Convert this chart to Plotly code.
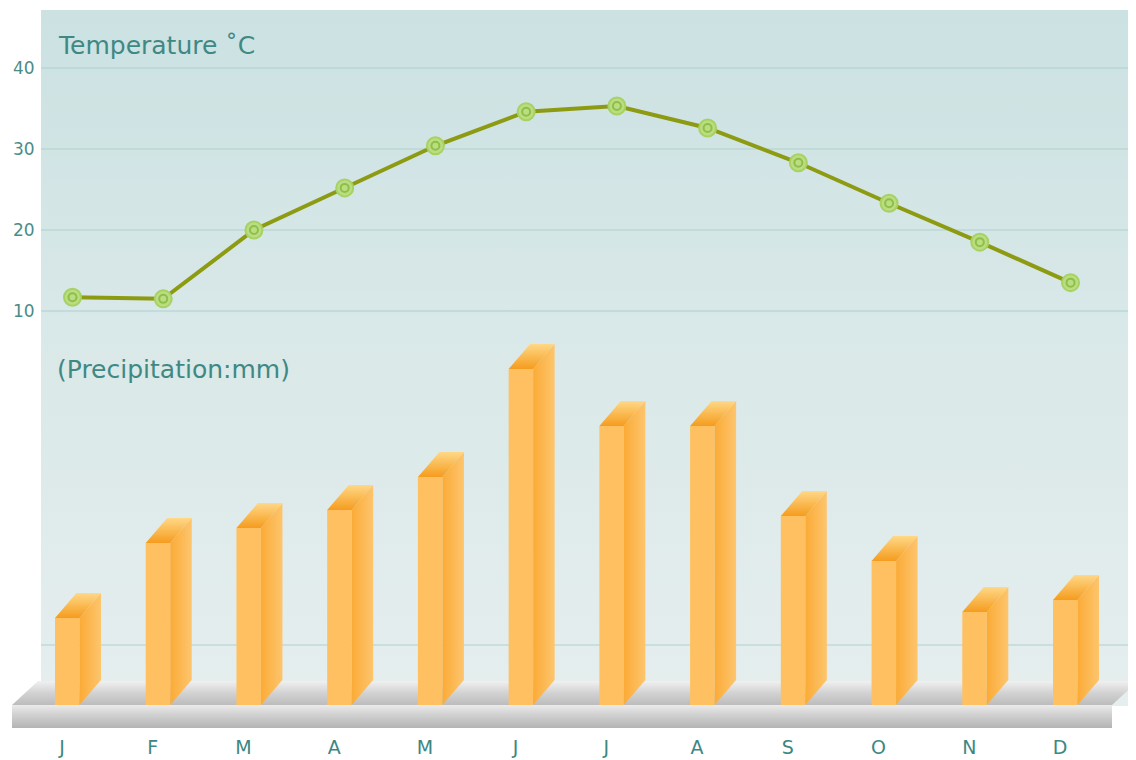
import plotly.graph_objects as go

# ---------------- data ----------------
months = ["J", "F", "M", "A", "M", "J", "J", "A", "S", "O", "N", "D"]
temperature = [11.7, 11.5, 20.0, 25.2, 30.4, 34.6, 35.3, 32.6, 28.3, 23.3, 18.5, 13.5]
precipitation = [29, 54, 59, 65, 76, 112, 93, 93, 63, 48, 31, 35]
temp_ticks = [10, 20, 30, 40]
precip_grid = [20]

# ---------------- geometry (page-pixel layout helpers) ----------------
OFF = 8                                # page body margin in the browser
W, H = 1136 - OFF, 760 - OFF
PLOT_L, PLOT_R, PLOT_T, PLOT_B = 10, 1136, 10, 730   # plot area in page pixels
ML, MR, MT, MB = PLOT_L - OFF, 1136 - PLOT_R, PLOT_T - OFF, 760 - PLOT_B

X0_PX, XSTEP_PX = 62.0, 90.73        # page pixel of first month, pixels per month


def x_of(px):
    return (px - X0_PX) / XSTEP_PX


def t_of(py):                          # temperature axis: 10 deg at 311px, 8.1 px/deg
    return 10 + (311 - py) / 8.1


def p_of(py):                          # precipitation axis: 0 at 705px, 3 px/mm
    return (705 - py) / 3.0


def paper_x(px):
    return (px - PLOT_L) / (PLOT_R - PLOT_L)


def paper_y(py):
    return 1 - (py - PLOT_T) / (PLOT_B - PLOT_T)


x_range = [x_of(PLOT_L), x_of(PLOT_R)]
t_range = [t_of(PLOT_B), t_of(PLOT_T)]
p_range = [p_of(PLOT_B), p_of(PLOT_T)]

BAR_OFFSET = x_of(55) - x_of(X0_PX)
BAR_WIDTH = 24.5 / XSTEP_PX
DEPTH_X = 21.5 / XSTEP_PX
DEPTH_Y = 25 / 3.0
LINE_SHIFT = 10.5 / XSTEP_PX

FONT = "DejaVu Sans"
TEAL = "#3f8884"
GRID = "#add0ce"

fig = go.Figure()

# background panel with vertical gradient (base axis y)
px_l, px_r = x_of(41), x_of(PLOT_R)
fig.add_trace(go.Scatter(
    x=[px_l, px_r, px_r, px_l, px_l],
    y=[t_of(706), t_of(706), t_of(PLOT_T), t_of(PLOT_T), t_of(706)],
    mode="lines", line=dict(width=0), fill="toself",
    fillgradient=dict(type="vertical",
                      colorscale=[[0, "#e6eeee"], [0.55, "#d9e8e8"], [1, "#cbe1e2"]]),
    hoverinfo="skip", xaxis="x", yaxis="y"))

# temperature gridlines
for tv in temp_ticks:
    fig.add_trace(go.Scatter(x=[px_l, px_r], y=[tv, tv], mode="lines",
                             line=dict(color=GRID, width=1),
                             hoverinfo="skip", xaxis="x", yaxis="y"))

# temperature line
fig.add_trace(go.Scatter(
    x=[i + LINE_SHIFT for i in range(len(months))], y=temperature,
    mode="lines+markers",
    line=dict(color="#8d9b12", width=4),
    marker=dict(size=17, color="#bcdc80", line=dict(color="#a6d263", width=2)),
    hoverinfo="skip", xaxis="x", yaxis="y"))
fig.add_trace(go.Scatter(
    x=[i + LINE_SHIFT for i in range(len(months))], y=temperature,
    mode="markers",
    marker=dict(size=8, symbol="circle-open", color="#8cc04a", line=dict(width=2)),
    hoverinfo="skip", xaxis="x", yaxis="y"))

# precipitation gridline (decor axis y2)
for pv in precip_grid:
    fig.add_trace(go.Scatter(x=[px_l, px_r], y=[pv, pv], mode="lines",
                             line=dict(color=GRID, width=1),
                             hoverinfo="skip", xaxis="x", yaxis="y2"))

# floor: top face and front face
fx0, fx1 = x_of(12), x_of(1112)
fb0, fb1 = x_of(38), x_of(1138)
fig.add_trace(go.Scatter(
    x=[fx0, fx1, fb1, fb0, fx0],
    y=[p_of(705), p_of(705), p_of(681), p_of(681), p_of(705)],
    mode="lines", line=dict(width=0), fill="toself",
    fillgradient=dict(type="vertical",
                      colorscale=[[0, "#bcbcbc"], [0.5, "#d2d2d2"], [1, "#f0f0f0"]]),
    hoverinfo="skip", xaxis="x", yaxis="y2"))
fig.add_trace(go.Scatter(
    x=[fx0, fx1, fx1, fx0, fx0],
    y=[p_of(728), p_of(728), p_of(705), p_of(705), p_of(728)],
    mode="lines", line=dict(width=0), fill="toself",
    fillgradient=dict(type="vertical",
                      colorscale=[[0, "#b4b4b4"], [0.6, "#d2d2d2"], [1, "#ebebeb"]]),
    hoverinfo="skip", xaxis="x", yaxis="y2"))

# precipitation bars (front faces)
fig.add_trace(go.Bar(
    x=list(range(len(months))), y=precipitation,
    width=BAR_WIDTH, offset=BAR_OFFSET,
    marker=dict(color="#fec060", line=dict(width=0)),
    hoverinfo="skip", xaxis="x", yaxis="y3"))

# side and top faces of bars
for i, v in enumerate(precipitation):
    xl = i + BAR_OFFSET
    xr = xl + BAR_WIDTH
    fig.add_trace(go.Scatter(
        x=[xr, xr + DEPTH_X, xr + DEPTH_X, xr, xr],
        y=[0, DEPTH_Y, v + DEPTH_Y, v, 0],
        mode="lines", line=dict(width=0), fill="toself",
        fillgradient=dict(type="horizontal",
                          colorscale=[[0, "#fbab36"], [1, "#fdc56e"]]),
        hoverinfo="skip", xaxis="x", yaxis="y3"))
    fig.add_trace(go.Scatter(
        x=[xl, xr, xr + DEPTH_X, xl + DEPTH_X, xl],
        y=[v, v, v + DEPTH_Y, v + DEPTH_Y, v],
        mode="lines", line=dict(width=0), fill="toself",
        fillgradient=dict(type="vertical",
                          colorscale=[[0, "#f59c1e"], [1, "#ffd887"]]),
        hoverinfo="skip", xaxis="x", yaxis="y3"))

fig.add_annotation(text="Temperature ˚C", xref="paper", yref="paper",
                   x=paper_x(56), y=paper_y(45),
                   xanchor="left", yanchor="middle", showarrow=False,
                   font=dict(family=FONT, size=25, color=TEAL))
fig.add_annotation(text="(Precipitation:mm)", xref="paper", yref="paper",
                   x=paper_x(55), y=paper_y(369),
                   xanchor="left", yanchor="middle", showarrow=False,
                   font=dict(family=FONT, size=25, color=TEAL))

fig.update_layout(
    width=W, height=H,
    margin=dict(l=ML, r=MR, t=MT, b=MB, pad=0),
    paper_bgcolor="white", plot_bgcolor="rgba(0,0,0,0)",
    showlegend=False, hovermode=False,
    font=dict(family=FONT),
    xaxis=dict(range=x_range, tickvals=list(range(len(months))), ticktext=months,
               showgrid=False, zeroline=False, showline=False, ticks="",
               ticklabelstandoff=4,
               tickfont=dict(family=FONT, size=19, color="#3d8783"),
               fixedrange=True),
    yaxis=dict(range=t_range, tickvals=temp_ticks, showgrid=False, zeroline=False,
               showline=False, ticks="", ticklabelposition="inside",
               tickfont=dict(family=FONT, size=17, color="#4a8c88"),
               fixedrange=True),
    yaxis2=dict(range=p_range, overlaying="y", visible=False, fixedrange=True),
    yaxis3=dict(range=p_range, overlaying="y", visible=False, fixedrange=True),
)

fig.write_html("out.html")
